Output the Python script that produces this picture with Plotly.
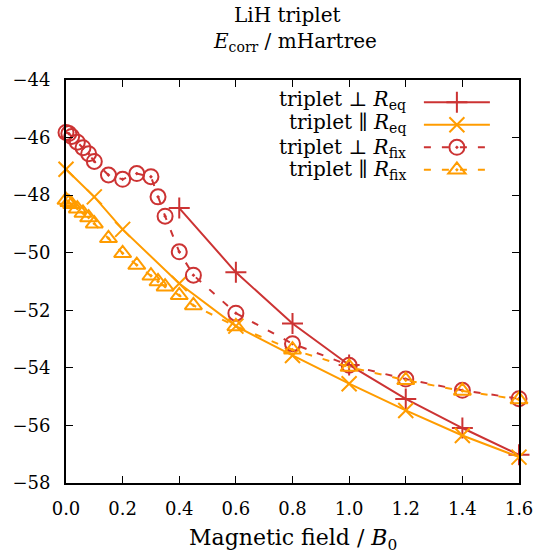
import plotly.graph_objects as go

# Magnetic field strengths (units of B0)
b_perp_eq = [0.4, 0.6, 0.8, 1.0, 1.2, 1.4, 1.6]
e_perp_eq = [-48.45, -50.68, -52.46, -53.90, -55.08, -56.09, -57.02]

b_par_eq = [0.0, 0.1, 0.2, 0.4, 0.6, 0.8, 1.0, 1.2, 1.4, 1.6]
e_par_eq = [-47.10, -48.06, -49.19, -51.07, -52.55, -53.57, -54.55, -55.48, -56.35, -57.10]

b_fix = [0.0, 0.01, 0.02, 0.04, 0.06, 0.08, 0.1, 0.15, 0.2, 0.25, 0.3, 0.325,
         0.35, 0.4, 0.45, 0.6, 0.8, 1.0, 1.2, 1.4, 1.6]
e_perp_fix = [-45.82, -45.86, -45.96, -46.16, -46.35, -46.56, -46.83, -47.30,
              -47.45, -47.25, -47.36, -48.06, -48.73, -49.97, -50.78, -52.10,
              -53.16, -53.91, -54.39, -54.78, -55.07]
e_par_fix = [-48.17, -48.25, -48.32, -48.47, -48.62, -48.78, -48.99, -49.50,
             -50.02, -50.43, -50.80, -51.00, -51.18, -51.48, -51.83, -52.56,
             -53.37, -53.97, -54.43, -54.80, -55.10]

labels = [
    "triplet ⊥ <i>R</i><sub>eq</sub>",
    "triplet ∥ <i>R</i><sub>eq</sub>",
    "triplet ⊥ <i>R</i><sub>fix</sub>",
    "triplet ∥ <i>R</i><sub>fix</sub>",
]

x_ticks = [0.0, 0.2, 0.4, 0.6, 0.8, 1.0, 1.2, 1.4, 1.6]
y_ticks = [-44, -46, -48, -50, -52, -54, -56, -58]

RED = "#cc3333"
ORANGE = "#ff9c00"
FONT = "DejaVu Serif"
FS = 18
FS_TEXT = 20

fig = go.Figure()

series = [
    (b_perp_eq, e_perp_eq, RED, "solid", "cross-thin-open", 15),
    (b_par_eq, e_par_eq, ORANGE, "solid", "x-thin-open", 15),
    (b_fix, e_perp_fix, RED, "7px,11px", "circle-open-dot", 15),
    (b_fix, e_par_fix, ORANGE, "7px,11px", "triangle-up-open-dot", 15),
]

for (xs, ys, col, dash, sym, size) in series:
    fig.add_trace(go.Scatter(
        x=xs, y=ys, mode="lines+markers", name=" ",
        line=dict(color=col, width=2, dash=dash),
        marker=dict(symbol=sym, size=size, color=col,
                    line=dict(color=col, width=2)),
        cliponaxis=False,
    ))

# Legend text, right-aligned to the left of the legend symbols
row_y = [0.950, 0.893, 0.831, 0.777]
for lab, yy in zip(labels, row_y):
    fig.add_annotation(
        text=lab, xref="paper", yref="paper", x=0.755, y=yy,
        xanchor="right", yanchor="middle", showarrow=False,
        font=dict(family=FONT, size=FS_TEXT, color="black"),
    )

# Two-line title above the plot
fig.add_annotation(text="LiH triplet", xref="paper", yref="paper",
                   x=0.49, y=1.161, xanchor="center", yanchor="middle",
                   showarrow=False, font=dict(family=FONT, size=FS_TEXT))
fig.add_annotation(text="<i>E</i><sub>corr</sub> / mHartree", xref="paper",
                   yref="paper", x=0.505, y=1.094, xanchor="center",
                   yanchor="middle", showarrow=False,
                   font=dict(family=FONT, size=FS_TEXT))

# x-axis title
fig.add_annotation(text="Magnetic field / <i>B</i><sub>0</sub>", xref="paper",
                   yref="paper", x=0.501, y=-0.139, xanchor="center",
                   yanchor="middle", showarrow=False,
                   font=dict(family=FONT, size=22))

fig.update_layout(
    width=537, height=553,
    margin=dict(l=66, r=18, t=80, b=70),
    paper_bgcolor="white", plot_bgcolor="white",
    font=dict(family=FONT, size=FS, color="black"),
    showlegend=True,
    legend=dict(
        x=0.779, y=0.985, xanchor="left", yanchor="top",
        bgcolor="rgba(0,0,0,0)", borderwidth=0,
        itemwidth=66, tracegroupgap=0,
        font=dict(family="Liberation Serif", size=15),
    ),
)

fig.update_xaxes(
    range=[0, 1.6], tickvals=x_ticks,
    ticktext=[f"{v:.1f}" for v in x_ticks],
    ticks="inside", ticklen=7, tickwidth=1.2, tickcolor="black",
    ticklabelstandoff=8, automargin=False,
    showline=True, linecolor="black", linewidth=2, mirror="ticks",
    showgrid=False, zeroline=False,
)
fig.update_yaxes(
    range=[-58, -44], tickvals=y_ticks,
    ticktext=[f"−{abs(v)}" for v in y_ticks],
    ticks="inside", ticklen=7, tickwidth=1.2, tickcolor="black",
    ticklabelstandoff=10, automargin=False,
    showline=True, linecolor="black", linewidth=2, mirror="ticks",
    showgrid=False, zeroline=False,
)

fig.write_html("out.html")
